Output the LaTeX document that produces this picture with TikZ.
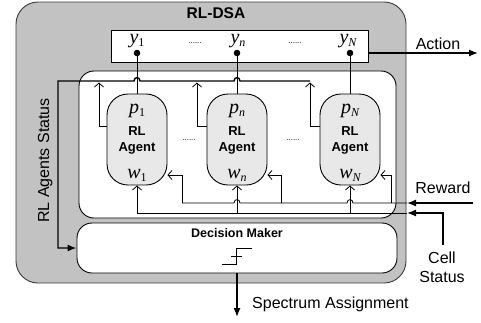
\documentclass[tikz,border=0pt]{standalone}
\usepackage{fontspec}
\setmainfont{Liberation Sans}
\newfontfamily\tms{Liberation Serif}
\usetikzlibrary{arrows.meta}
\definecolor{panel}{HTML}{C2C2C2}
\definecolor{agentfill}{HTML}{E8E8E8}
\definecolor{rim}{HTML}{3A3A3A}
% italic symbol with a subscript
\newcommand\sym[2]{{\fontsize{20}{23}\selectfont\tms\itshape #1}\raisebox{-3.5pt}{\fontsize{12}{14}\selectfont\tms #2}}
\begin{document}
\begin{tikzpicture}[x=1pt,y=-1pt,
  box/.style={draw,inner sep=0pt,line width=0.9pt},
  agentbox/.style={box,fill=agentfill,rounded corners=21pt,minimum width=60pt,minimum height=91pt},
  lbl/.style={font=\fontsize{16}{19}\selectfont,inner sep=0pt,anchor=base},
  boldlbl/.style={font=\bfseries\fontsize{13}{15}\selectfont,inner sep=0pt,anchor=base},
  symlbl/.style={inner sep=0pt,anchor=base},
  ellip/.style={font=\fontsize{8}{9}\selectfont,inner sep=0pt},
  sig/.style={line width=0.8pt},
  sigin/.style={sig,-{Straight Barb[length=4pt,width=9pt]}},
  bus/.style={line width=1.4pt},
  ext/.style={line width=1.3pt,-{Latex[length=9pt,width=7pt]}}]
\useasboundingbox (0,0) rectangle (481,322);

% enclosing RL-DSA panel
\node[box,draw=rim,fill=panel,rounded corners=22pt,minimum width=390pt,minimum height=281pt] (dsa) at (211,142.5) {};
\node[font=\bfseries\fontsize{15.5}{18}\selectfont,inner sep=0pt,anchor=base] (title) at (216,18) {RL-DSA};

% output register y_1 ... y_N
\node[box,fill=white,minimum width=257pt,minimum height=32pt] (ybox) at (239.5,46) {};
\node[symlbl] (y1) at (137,43) {\sym{y}{1}};
\node[symlbl] (yn) at (238,43) {\sym{y}{\itshape n}};
\node[symlbl] (yN) at (348,43) {\sym{y}{\itshape N}};
\node[ellip] (yd1) at (195,43) {......};
\node[ellip] (yd2) at (295,43) {......};

% agent area and decision maker
\node[box,fill=white,rounded corners=15pt,minimum width=317pt,minimum height=147pt] (inner) at (237.5,144.5) {};
\node[box,fill=white,rounded corners=15pt,minimum width=320pt,minimum height=50pt] (dm) at (237,248) {};
\node[font=\bfseries\fontsize{12.5}{15}\selectfont,inner sep=0pt,anchor=base] (dmlbl) at (237,237) {Decision Maker};
% threshold (step) function
\draw[line width=0.8pt] (222,264) -- (236,264) -- (236,248) -- (252,248);
\draw[line width=0.8pt] (231,256) -- (242,256);

% RL agents
\foreach \n/\x/\sub in {1/137/1, n/237/\itshape n, N/350/\itshape N}{
  \node[agentbox] (a\n) at (\x,139.5) {};
  \node[symlbl] (p\n) at (\x,113) {\sym{p}{\sub}};
  \node[boldlbl] (rl\n) at (\x,135) {RL};
  \node[boldlbl] (ag\n) at (\x,151) {Agent};
  \node[symlbl] (w\n) at (\x,178) {\sym{w}{\sub}};
}
\node[ellip] (ad1) at (189,140) {......};
\node[ellip] (ad2) at (293,140) {......};

% output taps
\foreach \n/\x in {1/137, n/237, N/350}{
  \coordinate (d\n) at (\x,53);
  \draw[sig] (d\n) -- (a\n.north);
  \fill (d\n) circle (3.3pt);
}

% agents status bus (hops over the output taps)
\coordinate (busend) at (310,81);
\coordinate (buscorner) at (58,81);
\draw[bus,-{Latex[length=9pt,width=7pt]}] (busend) -- (240,81)
  .. controls (240,76.5) and (234,76.5) .. (234,81) -- (140,81)
  .. controls (140,76.5) and (134,76.5) .. (134,81) -- (buscorner) |- (dm.west);
\draw[sigin] (a1.west |- 0,126) -| (99,82.5);
\draw[sigin] (an.west |- 0,126) -| (197,82.5);
\draw[sigin] (aN.west |- 0,126) -| (310,82.5);

% reward bus (hops over the cell status taps)
\coordinate (rwin) at (407,203);
\coordinate (rwsrc) at (473,203);
\draw[sig] (rwin) -- (353,203) .. controls (353,198.5) and (347,198.5) .. (347,203)
  -- (240,203) .. controls (240,198.5) and (234,198.5) .. (234,203) -- (182,203);
\draw[sigin] (182,203) |- (a1.east |- 0,175);
\draw[sigin] (281,203) |- (an.east |- 0,175);
\draw[sigin] (391,203) |- (aN.east |- 0,175);

% cell status bus
\coordinate (csin) at (407,213);
\coordinate (cssrc) at (443,245);
\draw[sig] (csin) -- (137,213);
\draw[sigin] (137,213) -- (a1.south);
\draw[sigin] (237,213) -- (an.south);
\draw[sigin] (350,213) -- (aN.south);

% external signals
\coordinate (act) at (478,53);
\draw[ext] (ybox.east |- d1) -- (act);
\draw[ext] (rwsrc) -- (rwin);
\draw[ext] (cssrc) |- (csin);
\coordinate (spec) at (237,317);
\draw[ext] (dm.south) -- (spec);

% labels
\node[lbl] (actlbl) at (438,49) {Action};
\node[lbl] (rwlbl) at (443,193) {Reward};
\node[lbl] (celllbl) at (442,263) {Cell};
\node[lbl] (statlbl) at (442,282) {Status};
\node[lbl,anchor=base west] (speclbl) at (252,308) {Spectrum Assignment};
\node[lbl,rotate=90] (statuslbl) at (49,160.5) {RL Agents Status};
\end{tikzpicture}
\end{document}
